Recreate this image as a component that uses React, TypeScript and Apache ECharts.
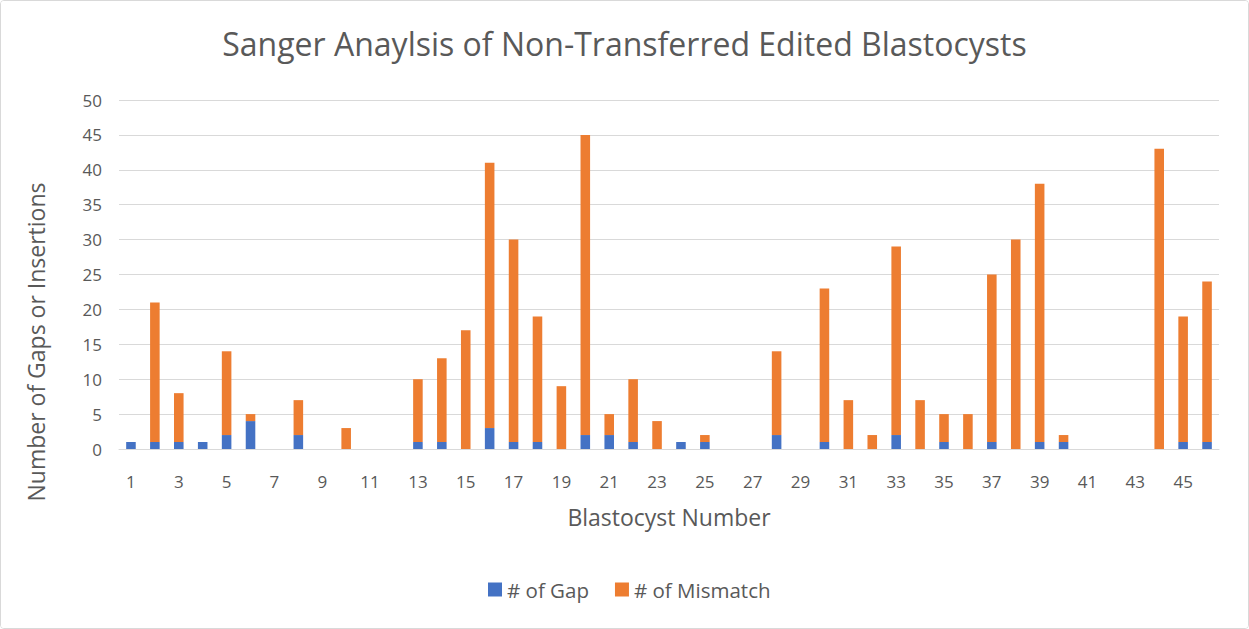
import React, { useEffect, useRef } from "react";
import * as echarts from "echarts";

const categories: string[] = Array.from({ length: 46 }, (_, i) => String(i + 1));
const gapValues: number[] = [1, 1, 1, 1, 2, 4, 0, 2, 0, 0, 0, 0, 1, 1, 0, 3, 1, 1, 0, 2, 2, 1, 0, 1, 1, 0, 0, 2, 0, 1, 0, 0, 2, 0, 1, 0, 1, 0, 1, 1, 0, 0, 0, 0, 1, 1];
const mismatchValues: number[] = [0, 20, 7, 0, 12, 1, 0, 5, 0, 3, 0, 0, 9, 12, 17, 38, 29, 18, 9, 43, 3, 9, 4, 0, 1, 0, 0, 12, 0, 22, 7, 2, 27, 7, 4, 5, 24, 30, 37, 1, 0, 0, 0, 43, 18, 23];

const FONT = "'Open Sans', sans-serif";
const TXT = "#595959";

export default function App() {
  const ref = useRef<HTMLDivElement>(null);
  useEffect(() => {
    if (!ref.current) return;
    const chart = echarts.init(ref.current, undefined, { renderer: "svg" });
    chart.setOption({
      animation: false,
      backgroundColor: "#ffffff",
      textStyle: { fontFamily: FONT, color: TXT },
      title: {
        text: "Sanger Anaylsis of Non-Transferred Edited Blastocysts",
        left: "center",
        top: 21,
        textStyle: { fontFamily: FONT, fontSize: 32, fontWeight: "normal", color: TXT },
      },
      legend: {
        top: 578,
        left: 487,
        icon: "rect",
        itemWidth: 14,
        itemHeight: 14,
        itemGap: 26,
        padding: 0,
        textStyle: { fontFamily: FONT, fontSize: 20.5, color: TXT },
        data: ["# of Gap", "# of Mismatch"],
      },
      grid: { left: 118, right: 29, top: 99, bottom: 179, containLabel: false },
      graphic: [
        {
          type: "text",
          x: 35,
          y: 341,
          rotation: Math.PI / 2,
          style: {
            text: "Number of Gaps or Insertions",
            fontFamily: FONT,
            fontSize: 23,
            fill: TXT,
            align: "center",
            verticalAlign: "middle",
          },
        },
      ],
      xAxis: {
        type: "category",
        data: categories,
        name: "Blastocyst Number",
        nameLocation: "middle",
        nameGap: 56,
        nameTextStyle: { fontFamily: FONT, fontSize: 23, color: TXT },
        axisLine: { lineStyle: { color: "#d9d9d9", width: 1 } },
        axisTick: { show: false },
        axisLabel: { interval: 1, fontFamily: FONT, fontSize: 17, color: TXT, margin: 24 },
      },
      yAxis: {
        type: "value",
        min: 0,
        max: 50,
        interval: 5,
        axisLine: { show: false },
        axisTick: { show: false },
        axisLabel: { fontFamily: FONT, fontSize: 17, color: TXT, margin: 17 },
        splitLine: { lineStyle: { color: "#d9d9d9", width: 1 } },
      },
      series: [
        {
          name: "# of Gap",
          type: "bar",
          stack: "total",
          data: gapValues,
          barWidth: "40%",
          itemStyle: { color: "#4472C4" },
        },
        {
          name: "# of Mismatch",
          type: "bar",
          stack: "total",
          data: mismatchValues,
          barWidth: "40%",
          itemStyle: { color: "#ED7D31" },
        },
      ],
    });
    return () => chart.dispose();
  }, []);
  return (
    <div
      style={{
        position: "fixed",
        left: 0,
        top: 0,
        width: 1249,
        height: 629,
        boxSizing: "border-box",
        border: "1px solid #d9d9d9",
        borderRadius: 4,
        overflow: "hidden",
        background: "#fff",
      }}
    >
      <div ref={ref} style={{ width: 1247, height: 627 }} />
    </div>
  );
}
